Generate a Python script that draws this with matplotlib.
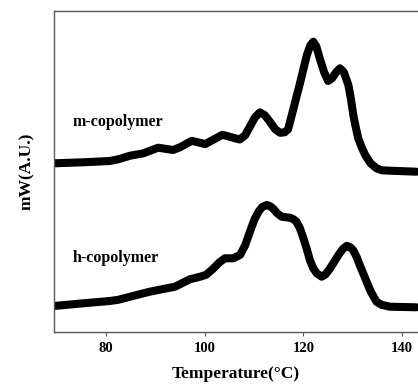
import numpy as np
import matplotlib
matplotlib.use("Agg")
import matplotlib.pyplot as plt

# Datos (temperatura en °C, señal en unidades arbitrarias)
temp_m = [69.5, 75.4, 80.8, 82.5, 84.9, 87.6, 90.6, 93.6, 95.0, 97.4, 100.1,
          103.6, 107.1, 108.2, 109.2, 110.2, 111.2, 112.2, 113.2, 114.3, 115.3,
          116.2, 116.9, 118.0, 118.6, 119.3, 120.7, 121.4, 122.0, 122.6, 123.3,
          124.2, 125.0, 125.8, 126.6, 127.4, 128.2, 129.1, 129.6, 130.1, 130.6,
          131.1, 131.8, 132.5, 133.6, 134.8, 135.9, 137.5, 142.9]
senal_m = [16.90, 17.00, 17.13, 17.30, 17.66, 17.90, 18.46, 18.23, 18.50, 19.15, 18.82,
           19.75, 19.28, 19.70, 20.60, 21.50, 22.00, 21.70, 21.06, 20.30, 19.95,
           20.00, 20.30, 22.40, 23.56, 24.90, 27.73, 28.70, 29.06, 28.60, 27.40,
           26.00, 25.13, 25.40, 26.00, 26.40, 26.00, 24.73, 23.40, 21.73, 20.50,
           19.40, 18.50, 17.73, 16.90, 16.40, 16.20, 16.16, 16.06]

temp_h = [69.5, 75.4, 80.8, 82.5, 84.9, 88.9, 91.6, 94.0, 97.0, 99.1, 100.3,
          101.7, 103.0, 104.1, 105.8, 107.2, 108.2, 109.2, 110.1, 110.9, 111.7,
          112.6, 113.3, 113.9, 114.7, 115.6, 116.5, 117.3, 118.0, 118.6, 119.3,
          120.0, 120.7, 121.3, 122.0, 122.7, 123.7, 124.5, 125.4, 126.3, 127.1,
          128.0, 128.8, 129.5, 130.1, 130.8, 131.4, 132.1, 132.8, 133.6, 134.8,
          135.8, 137.5, 142.9]
senal_h = [2.63, 2.90, 3.13, 3.25, 3.56, 4.06, 4.33, 4.56, 5.30, 5.56, 5.75,
           6.35, 7.00, 7.40, 7.40, 7.75, 8.70, 10.10, 11.30, 12.06, 12.55,
           12.73, 12.60, 12.35, 11.90, 11.56, 11.50, 11.46, 11.30, 11.06, 10.40,
           9.40, 8.30, 7.23, 6.40, 5.90, 5.56, 5.80, 6.40, 7.10, 7.73,
           8.35, 8.65, 8.50, 8.20, 7.50, 6.73, 5.90, 5.06, 4.10, 3.06,
           2.75, 2.56, 2.50]

xticks = [80, 100, 120, 140]

serif = ['Liberation Serif', 'DejaVu Serif']
gris = '#5a5a5a'

fig = plt.figure(figsize=(4.18, 3.85), dpi=100)
ax = fig.add_axes([54 / 418, 52.7 / 385, 1 - 54 / 418, 321.6 / 385])

ax.plot(temp_m, senal_m, color='black', linewidth=5.8, solid_capstyle='round', solid_joinstyle='round')
ax.plot(temp_h, senal_h, color='black', linewidth=5.8, solid_capstyle='round', solid_joinstyle='round')

ax.text(73.3, 21.05, "m-copolymer", family=serif, fontweight='bold', fontsize=11.5, va='center')
ax.text(73.3, 7.46, "h-copolymer", family=serif, fontweight='bold', fontsize=11.5, va='center')

ax.set_xlim(69.5, 143.2)
ax.set_ylim(0, 32.16)
ax.set_xticks(xticks)
ax.set_yticks([])
for lbl in ax.get_xticklabels():
    lbl.set_family(serif)
    lbl.set_fontweight('bold')
    lbl.set_fontsize(10.5)
ax.tick_params(axis='x', direction='out', length=3, width=0.8, color=gris, pad=4)

ax.spines['right'].set_visible(False)
for s in ['left', 'top', 'bottom']:
    ax.spines[s].set_color(gris)
    ax.spines[s].set_linewidth(1.0)

ax.set_xlabel("Temperature(°C)", family=serif, fontweight='bold', fontsize=12.5, labelpad=8)
ax.set_ylabel("mW(A.U.)", family=serif, fontweight='bold', fontsize=12.5, labelpad=14)

fig.savefig("out.png", dpi=100)
